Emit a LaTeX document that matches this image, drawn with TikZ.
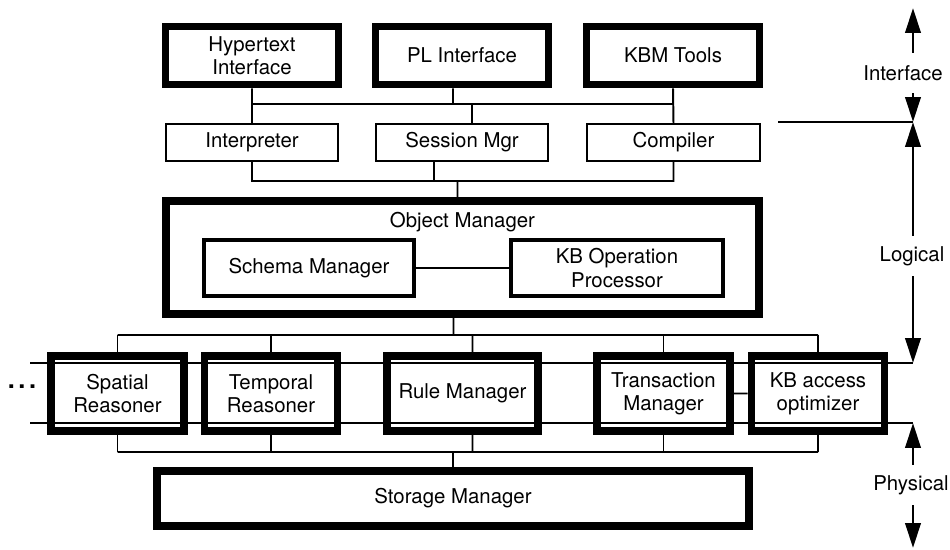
\documentclass[tikz,border=0pt]{standalone}
\usepackage{fontspec}
\setmainfont{TeX Gyre Heros}
\usepackage{tikz}
\usetikzlibrary{positioning,calc,arrows.meta}

\begin{document}
\begin{tikzpicture}[x=0.025cm, y=-0.025cm,
		every node/.style={font=\fontsize{14.5}{16.5}\selectfont, align=center, inner sep=0pt},
		heavybox/.style={draw, line width=5.4pt},
		topbox/.style={heavybox, minimum width=4.325cm, minimum height=1.45cm},
		rowbox/.style={heavybox, minimum width=3.325cm, minimum height=1.875cm},
		thinbox/.style={draw, line width=1.4pt, minimum width=4.3cm, minimum height=0.925cm},
		midbox/.style={draw, line width=3pt, minimum height=1.4cm},
		wire/.style={line width=1.4pt},
		layerarrow/.style={line width=2.1pt, -{Triangle[length=0.62cm, width=0.38cm]}},
		layername/.style={minimum height=1cm}]
			\useasboundingbox (0,0) rectangle (950,550);
			% part for the interface layer
			\begin{scope}
				\node[topbox] (hyper) at (252,55.5) {Hypertext\\Interface};
				\node[topbox] (plif) at (462,55.5) {PL Interface};
				\node[topbox] (kbm) at (673,55.5) {KBM Tools};
				\node[thinbox] (interp) at (252,142.5) {Interpreter};
				\node[thinbox] (sess) at (462,142.5) {Session Mgr};
				\node[thinbox] (comp) at (673.5,142.5) {Compiler};
			\end{scope}
			% part for the object manager
			\begin{scope}
				\node[heavybox, minimum width=14.825cm, minimum height=2.825cm] (om) at (462.5,257.5) {};
				\node[below=0.38cm of om.north] (omname) {Object Manager};
				\node[midbox, minimum width=5.25cm] (schema) at (309,268) {Schema Manager};
				\node[midbox, minimum width=5.3cm] (kbop) at (617,268) {KB Operation\\Processor};
			\end{scope}
			% part for the managers below
			\begin{scope}
				\node[rowbox] (spat) at (117.5,393.5) {Spatial\\Reasoner};
				\node[rowbox] (temp) at (271,393.5) {Temporal\\Reasoner};
				\node[rowbox, minimum width=3.775cm] (rule) at (462.5,393.5) {Rule Manager};
				\node[rowbox] (trans) at (663.5,393.5) {Transaction\\Manager};
				\node[rowbox] (kbacc) at (818,393.5) {KB access\\optimizer};
				\node[heavybox, minimum width=14.8cm, minimum height=1.375cm] (stor) at (453,498.5) {Storage Manager};
				\node[font=\fontsize{18}{18}\selectfont] (more) at (22,387) {\textbf{.\kern2.5pt.\kern2.5pt.}};
			\end{scope}
			% wiring
			\coordinate (bus1) at (0,104);
			\coordinate (bus2) at (0,181);
			\coordinate (bus3) at (0,335);
			\coordinate (bus4) at (0,452);
			\coordinate (plw) at ($(plif.south)+(-9,0)$);
			\coordinate (sest) at ($(sess.north)+(10,0)$);
			\coordinate (sesb) at ($(sess.south)+(-28,0)$);
			\coordinate (omt) at ($(om.north)+(-5,0)$);
			\coordinate (omb) at ($(om.south)+(-9,0)$);
			\coordinate (rulet) at ($(rule.north)+(10,0)$);
			\coordinate (ruleb) at ($(rule.south)+(10,0)$);
			\draw[wire]
				(hyper.south) -- (interp.north)
				(kbm.south) -- (comp.north)
				(hyper.south |- bus1) -- (kbm.south |- bus1)
				(plw) -- (plw |- bus1)
				(sest |- bus1) -- (sest)
				(interp.south) -- (interp.south |- bus2) -- (comp.south |- bus2) -- (comp.south)
				(sesb) -- (sesb |- bus2)
				(omt |- bus2) -- (omt)
				(schema.east) -- (kbop.west)
				(omb) -- (omb |- bus3)
				(spat.north |- bus3) -- (kbacc.north |- bus3)
				(rulet |- bus3) -- (rulet)
				(spat.south |- bus4) -- (kbacc.south |- bus4)
				(ruleb) -- (ruleb |- bus4)
				(stor.north |- bus4) -- (stor.north)
				(trans.east) -- (kbacc.west);
			\foreach \n in {spat,temp,trans,kbacc}
				\draw[wire] (\n.north |- bus3) -- (\n.north) (\n.south) -- (\n.south |- bus4);
			% layer boundaries and arrows
			\coordinate (toparr) at (913,8);
			\coordinate (bnd1) at (913,122);
			\coordinate (bnd2) at (913,363);
			\coordinate (bnd3) at (913,423);
			\coordinate (botarr) at (913,548);
			\coordinate (bnd1l) at (778,122);
			\coordinate (bnd2l) at (30,363);
			\coordinate (bnd3l) at (30,423);
			\node[layername] (lif) at (903,73) {Interface};
			\node[layername] (llog) at (912,256) {Logical};
			\node[layername] (lphy) at (911,485) {Physical};
			\draw[wire] (bnd1l) -- (bnd1) (bnd2l) -- (bnd2) (bnd3l) -- (bnd3);
			\draw[layerarrow] (lif.north -| toparr) -- (toparr);
			\draw[layerarrow] (lif.south -| bnd1) -- (bnd1);
			\draw[layerarrow] (llog.north -| bnd1) -- (bnd1);
			\draw[layerarrow] (llog.south -| bnd2) -- (bnd2);
			\draw[layerarrow] (lphy.north -| bnd3) -- (bnd3);
			\draw[layerarrow] (lphy.south -| botarr) -- (botarr);
		\end{tikzpicture}
\end{document}
